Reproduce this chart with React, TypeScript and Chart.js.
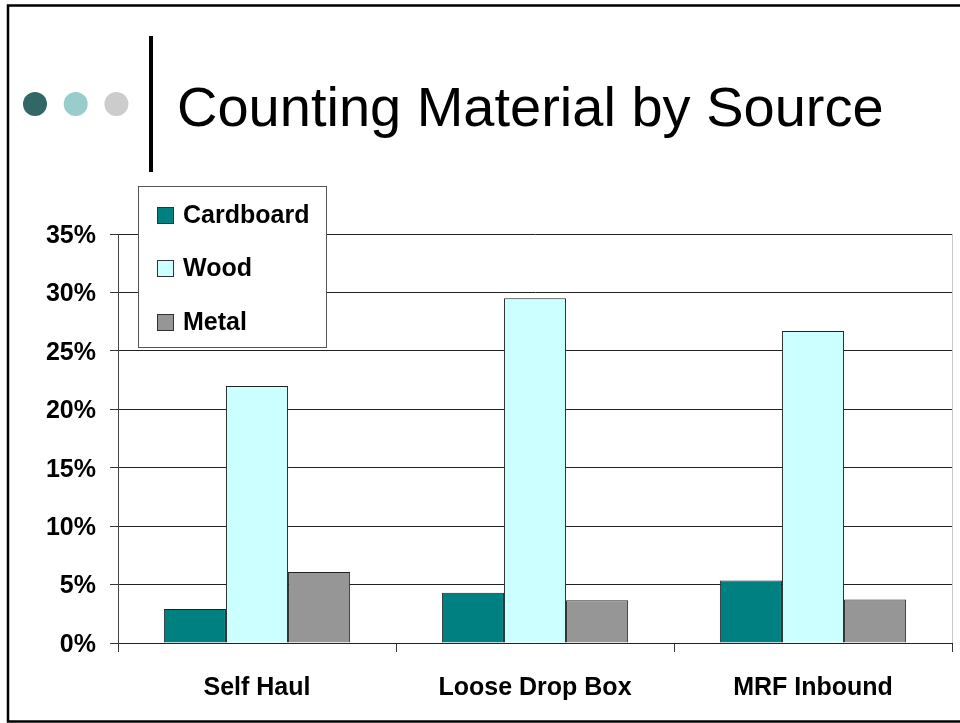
import React, { useEffect, useRef } from "react";
import { Chart, registerables } from "chart.js";

Chart.register(...registerables);

const categories = ["Self Haul", "Loose Drop Box", "MRF Inbound"];
const seriesNames = ["Cardboard", "Wood", "Metal"];
const cardboard = [0.029, 0.043, 0.0535];
const wood = [0.22, 0.295, 0.267];
const metal = [0.0607, 0.0365, 0.0373];
const seriesColors = ["#008080", "#CCFFFF", "#969696"];
const yTickLabels = ["0%", "5%", "10%", "15%", "20%", "25%", "30%", "35%"];
const titleText = "Counting Material by Source";
const dotColors = ["#336666", "#99CCCC", "#CCCCCC"];

const FONT = "'Liberation Sans', Arial, sans-serif";

const decorations = {
  id: "decorations",
  afterDraw(chart: any) {
    const ctx = chart.ctx as CanvasRenderingContext2D;
    const area = chart.chartArea;
    ctx.save();
    // faint right edge of plot area
    ctx.strokeStyle = "#c8c8c8";
    ctx.lineWidth = 1;
    ctx.beginPath();
    ctx.moveTo(Math.round(area.right) + 0.5, area.top);
    ctx.lineTo(Math.round(area.right) + 0.5, area.bottom);
    ctx.stroke();

    // outer frame
    ctx.strokeStyle = "#000";
    ctx.lineWidth = 2.5;
    ctx.strokeRect(8, 5.5, 1000, 716);

    // dots
    dotColors.forEach((c, i) => {
      ctx.fillStyle = c;
      ctx.beginPath();
      ctx.arc(35 + i * 40.7, 104, 12, 0, Math.PI * 2);
      ctx.fill();
    });

    // vertical bar
    ctx.fillStyle = "#000";
    ctx.fillRect(149, 36, 4, 136);

    // title
    ctx.fillStyle = "#000";
    ctx.font = `56px ${FONT}`;
    ctx.textAlign = "left";
    ctx.textBaseline = "alphabetic";
    ctx.fillText(titleText, 177, 126);

    // legend
    const lx = 138.5, ly = 186.5, lw = 188, lh = 161;
    ctx.fillStyle = "#fff";
    ctx.fillRect(lx, ly, lw, lh);
    ctx.strokeStyle = "#555";
    ctx.lineWidth = 1;
    ctx.strokeRect(lx, ly, lw, lh);
    ctx.font = `bold 25px ${FONT}`;
    ctx.textBaseline = "middle";
    chart.data.datasets.forEach((ds: any, i: number) => {
      const cy = 215 + i * 53.5;
      ctx.fillStyle = ds.backgroundColor;
      ctx.fillRect(157, Math.round(cy - 8.5), 17, 17);
      ctx.strokeStyle = "#333";
      ctx.strokeRect(157.5, Math.round(cy - 8.5) + 0.5, 16, 16);
      ctx.fillStyle = "#000";
      ctx.fillText(ds.label, 183, cy + 1);
    });
    ctx.restore();
  },
};

export default function App() {
  const ref = useRef<HTMLCanvasElement>(null);
  useEffect(() => {
    if (!ref.current) return;
    const values = [cardboard, wood, metal];
    const chart = new Chart(ref.current, {
      type: "bar",
      data: {
        labels: categories,
        datasets: seriesNames.map((name, i) => ({
          label: name,
          data: values[i],
          backgroundColor: seriesColors[i],
          borderColor: "#222",
          borderWidth: 1,
          categoryPercentage: 0.67,
          barPercentage: 1,
        })),
      },
      options: {
        animation: false,
        responsive: false,
        devicePixelRatio: 1,
        layout: { padding: { top: 234, right: 8, left: 0, bottom: 0 } },
        plugins: { legend: { display: false }, tooltip: { enabled: false } },
        scales: {
          x: {
            offset: true,
            grid: {
              offset: true,
              drawOnChartArea: false,
              drawTicks: true,
              tickLength: 9,
              color: "#333",
              tickColor: "#333",
            },
            border: { display: true, color: "#222", width: 1 },
            ticks: {
              color: "#000",
              font: { family: FONT, size: 25, weight: "bold" },
              padding: 21,
              maxRotation: 0,
              autoSkip: false,
            },
            afterFit(scale: any) {
              scale.height = 80;
            },
          },
          y: {
            min: 0,
            max: 0.35,
            ticks: {
              stepSize: 0.05,
              color: "#000",
              font: { family: FONT, size: 25, weight: "bold" },
              padding: 14,
              labelOffset: 2,
              callback: (_v: any, idx: number) => yTickLabels[idx],
            },
            grid: {
              color: "#222",
              tickColor: "#333",
              tickLength: 8,
              lineWidth: 1,
            },
            border: { display: true, color: "#444", width: 1 },
            afterFit(scale: any) {
              scale.width = 118;
            },
          },
        },
      },
      plugins: [decorations],
    } as any);
    return () => chart.destroy();
  }, []);
  return (
    <div style={{ position: "absolute", left: 0, top: 0, width: 960, height: 723, background: "#fff" }}>
      <canvas ref={ref} width={960} height={723} style={{ display: "block" }} />
    </div>
  );
}
